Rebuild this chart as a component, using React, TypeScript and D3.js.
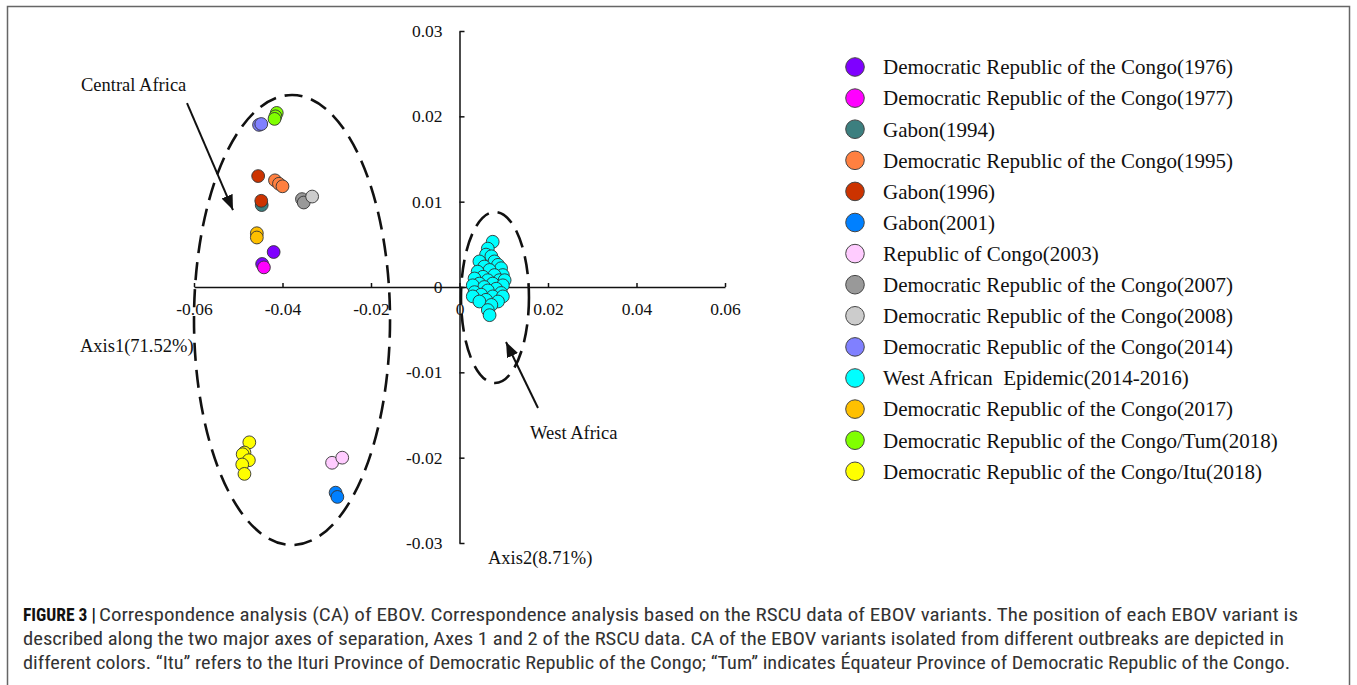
import { useEffect, useRef } from "react";
import * as d3 from "d3";

type Pt = [number, number];

const seriesNames = [
  "Democratic Republic of the Congo(1976)",
  "Democratic Republic of the Congo(1977)",
  "Gabon(1994)",
  "Democratic Republic of the Congo(1995)",
  "Gabon(1996)",
  "Gabon(2001)",
  "Republic of Congo(2003)",
  "Democratic Republic of the Congo(2007)",
  "Democratic Republic of the Congo(2008)",
  "Democratic Republic of the Congo(2014)",
  "West African  Epidemic(2014-2016)",
  "Democratic Republic of the Congo(2017)",
  "Democratic Republic of the Congo/Tum(2018)",
  "Democratic Republic of the Congo/Itu(2018)",
];

const seriesColors = [
  "#7F00FF", "#FF00FF", "#3C7F7F", "#FF8040", "#CC3300", "#0080FF", "#FFCCFF",
  "#999999", "#CCCCCC", "#8080FF", "#00FFFF", "#FFC000", "#80FF00", "#FFFF00",
];

// values (Axis1, Axis2)
const drc1976: Pt[] = [[-0.0420, 0.0041], [-0.0446, 0.0027]];
const drc1977: Pt[] = [[-0.0442, 0.0023]];
const gabon1994: Pt[] = [[-0.0447, 0.0096]];
const drc1995: Pt[] = [[-0.0417, 0.0125], [-0.0408, 0.0121], [-0.0400, 0.0118]];
const gabon1996: Pt[] = [[-0.0455, 0.0130], [-0.0448, 0.0101]];
const gabon2001: Pt[] = [[-0.0280, -0.0241], [-0.0276, -0.0246]];
const congo2003: Pt[] = [[-0.0288, -0.0206], [-0.0265, -0.0200]];
const drc2007: Pt[] = [[-0.0356, 0.0103], [-0.0352, 0.0099]];
const drc2008: Pt[] = [[-0.0333, 0.0106]];
const drc2014: Pt[] = [[-0.0453, 0.0190], [-0.0448, 0.0191]];
const westAfrica: Pt[] = [
  [0.0075, 0.0053], [0.0064, 0.0045], [0.0060, 0.0038], [0.0072, 0.0036], [0.0045, 0.0030],
  [0.0079, 0.0030], [0.0056, 0.0024], [0.0087, 0.0026], [0.0094, 0.0022], [0.0068, 0.0020],
  [0.0041, 0.0018], [0.0098, 0.0014], [0.0079, 0.0014], [0.0053, 0.0012], [0.0034, 0.0010],
  [0.0064, 0.0008], [0.0090, 0.0008], [0.0102, 0.0008], [0.0045, 0.0004], [0.0075, 0.0004],
  [0.0030, 0.0002], [0.0098, 0.0002], [0.0056, 0.0000], [0.0083, -0.0002], [0.0034, -0.0006],
  [0.0064, -0.0004], [0.0094, -0.0007], [0.0049, -0.0009], [0.0075, -0.0011], [0.0030, -0.0011],
  [0.0098, -0.0011], [0.0060, -0.0015], [0.0087, -0.0017], [0.0045, -0.0017], [0.0072, -0.0021],
  [0.0064, -0.0027], [0.0068, -0.0033],
];
const drc2017: Pt[] = [[-0.0458, 0.0063], [-0.0458, 0.0058]];
const drcTum2018: Pt[] = [[-0.0413, 0.0204], [-0.0416, 0.0200], [-0.0418, 0.0197]];
const drcItu2018: Pt[] = [
  [-0.0475, -0.0182], [-0.0486, -0.0194], [-0.0490, -0.0196], [-0.0476, -0.0203],
  [-0.0491, -0.0208], [-0.0486, -0.0219],
];

const seriesPoints = [
  drc1976, drc1977, gabon1994, drc1995, gabon1996, gabon2001, congo2003,
  drc2007, drc2008, drc2014, westAfrica, drc2017, drcTum2018, drcItu2018,
];

const xTicks = [-0.06, -0.04, -0.02, 0, 0.02, 0.04, 0.06];
const xTickLabels = ["-0.06", "-0.04", "-0.02", "0", "0.02", "0.04", "0.06"];
const yTicks = [-0.03, -0.02, -0.01, 0, 0.01, 0.02, 0.03];
const yTickLabels = ["-0.03", "-0.02", "-0.01", "0", "0.01", "0.02", "0.03"];

const captionLines = [
  "Correspondence analysis (CA) of EBOV. Correspondence analysis based on the RSCU data of EBOV variants. The position of each EBOV variant is",
  "described along the two major axes of separation, Axes 1 and 2 of the RSCU data. CA of the EBOV variants isolated from different outbreaks are depicted in",
  "different colors. \u201cItu\u201d refers to the Ituri Province of Democratic Republic of the Congo; \u201cTum\u201d indicates \u00c9quateur Province of Democratic Republic of the Congo.",
];

const serif = "'Liberation Serif', 'Times New Roman', serif";
const narrow = "'Liberation Sans Narrow', 'Arial Narrow', 'Roboto Condensed', 'Liberation Sans', sans-serif";

const W = 1357;
const H = 685;

export default function App() {
  const svgRef = useRef<SVGSVGElement | null>(null);

  useEffect(() => {
    if (!svgRef.current) return;
    const svg = d3.select(svgRef.current);
    svg.selectAll("*").remove();

    const x = d3.scaleLinear().domain([-0.06, 0.06]).range([194, 725]);
    const y = d3.scaleLinear().domain([-0.03, 0.03]).range([543, 31]);

    // frame
    svg.append("rect")
      .attr("x", 7.5).attr("y", 6.5)
      .attr("width", 1342).attr("height", 700)
      .attr("fill", "none").attr("stroke", "#666").attr("stroke-width", 1.5);

    const defs = svg.append("defs");
    defs.append("marker")
      .attr("id", "arrowhead")
      .attr("markerUnits", "userSpaceOnUse")
      .attr("markerWidth", 16).attr("markerHeight", 14)
      .attr("refX", 15).attr("refY", 6)
      .attr("orient", "auto")
      .append("path")
      .attr("d", "M0,0 L15,6 L0,12 Z")
      .attr("fill", "#111");

    // axes
    const xAxis = d3.axisBottom(x)
      .tickValues(xTicks)
      .tickFormat((_, i) => xTickLabels[i])
      .tickSizeInner(-4).tickSizeOuter(0).tickPadding(16);
    const gx = svg.append("g").attr("transform", `translate(0,${y(0)})`).call(xAxis);
    gx.attr("font-size", 17.5).attr("font-family", serif);

    const yAxis = d3.axisLeft(y)
      .tickValues(yTicks)
      .tickFormat((_, i) => yTickLabels[i])
      .tickSizeInner(-5).tickSizeOuter(0).tickPadding(17);
    const gy = svg.append("g").attr("transform", `translate(${x(0)},0)`).call(yAxis);
    gy.attr("font-size", 17.5).attr("font-family", serif);

    [gx, gy].forEach((g) => {
      g.select(".domain").attr("stroke", "#111").attr("stroke-width", 1.5);
      g.selectAll(".tick line").attr("stroke", "#111").attr("stroke-width", 1.5);
      g.selectAll(".tick text").attr("fill", "#111");
    });

    // dashed ellipses
    const ellipses = [
      { cx: -0.03785, cy: -0.00387, rx: 0.02215, ry: 0.02637 },
      { cx: 0.00802, cy: -0.00123, rx: 0.00768, ry: 0.01002 },
    ];
    svg.append("g").selectAll("ellipse")
      .data(ellipses)
      .enter()
      .append("ellipse")
      .attr("cx", (d) => x(d.cx))
      .attr("cy", (d) => y(d.cy))
      .attr("rx", (d) => x(d.rx) - x(0))
      .attr("ry", (d) => y(0) - y(d.ry))
      .attr("fill", "none")
      .attr("stroke", "#111")
      .attr("stroke-width", 2.6)
      .attr("stroke-dasharray", "18 9");

    // points
    const pts = svg.append("g");
    seriesPoints.forEach((list, si) => {
      pts.selectAll(`circle.s${si}`)
        .data(list)
        .enter()
        .append("circle")
        .attr("class", `s${si}`)
        .attr("cx", (d) => x(d[0]))
        .attr("cy", (d) => y(d[1]))
        .attr("r", 6.4)
        .attr("fill", seriesColors[si])
        .attr("stroke", "#333")
        .attr("stroke-width", 0.9);
    });

    // arrows + region labels
    const arrows = [
      { from: [-0.06158, 0.02156], to: [-0.05119, 0.00902] },
      { from: [0.01774, -0.01418], to: [0.01051, -0.00645] },
    ];
    svg.append("g").selectAll("line")
      .data(arrows)
      .enter()
      .append("line")
      .attr("x1", (d) => x(d.from[0]))
      .attr("y1", (d) => y(d.from[1]))
      .attr("x2", (d) => x(d.to[0]))
      .attr("y2", (d) => y(d.to[1]))
      .attr("stroke", "#111")
      .attr("stroke-width", 2)
      .attr("marker-end", "url(#arrowhead)");

    const labels = [
      { text: "Central Africa", x: 81, y: 91 },
      { text: "West Africa", x: 530, y: 439 },
      { text: "Axis1(71.52%)", x: 80, y: 352 },
      { text: "Axis2(8.71%)", x: 488, y: 564 },
    ];
    svg.append("g").selectAll("text")
      .data(labels)
      .enter()
      .append("text")
      .attr("x", (d) => d.x)
      .attr("y", (d) => d.y)
      .attr("font-family", serif)
      .attr("font-size", 18.5)
      .attr("fill", "#111")
      .text((d) => d.text);

    // legend
    const legend = svg.append("g");
    const rowY = (i: number) => 67 + i * 31.1;
    legend.selectAll("circle")
      .data(seriesNames)
      .enter()
      .append("circle")
      .attr("cx", 855)
      .attr("cy", (_, i) => rowY(i))
      .attr("r", 9.3)
      .attr("fill", (_, i) => seriesColors[i])
      .attr("stroke", "#444")
      .attr("stroke-width", 1);
    legend.selectAll("text")
      .data(seriesNames)
      .enter()
      .append("text")
      .attr("x", 883)
      .attr("y", (_, i) => rowY(i))
      .attr("dy", "0.35em")
      .attr("font-family", serif)
      .attr("font-size", 21)
      .attr("fill", "#111")
      .style("white-space", "pre")
      .text((d) => d);

    // caption
    const cap = svg.append("g").attr("font-family", narrow).attr("font-size", 17.5).attr("fill", "#333");
    cap.append("text")
      .attr("x", 23).attr("y", 621)
      .attr("font-weight", "bold")
      .attr("fill", "#111")
      .text("FIGURE 3 |");
    const lineStarts = [99, 23, 23];
    const lineEnds = [1298, 1284, 1290];
    cap.selectAll("text.line")
      .data(captionLines)
      .enter()
      .append("text")
      .attr("class", "line")
      .attr("x", (_, i) => lineStarts[i])
      .attr("y", (_, i) => 621 + i * 24)
      .attr("textLength", (_, i) => lineEnds[i] - lineStarts[i])
      .attr("lengthAdjust", "spacingAndGlyphs")
      .text((d) => d);
  }, []);

  return (
    <svg
      ref={svgRef}
      width={W}
      height={H}
      style={{ position: "absolute", left: 0, top: 0, background: "#fff" }}
    />
  );
}
